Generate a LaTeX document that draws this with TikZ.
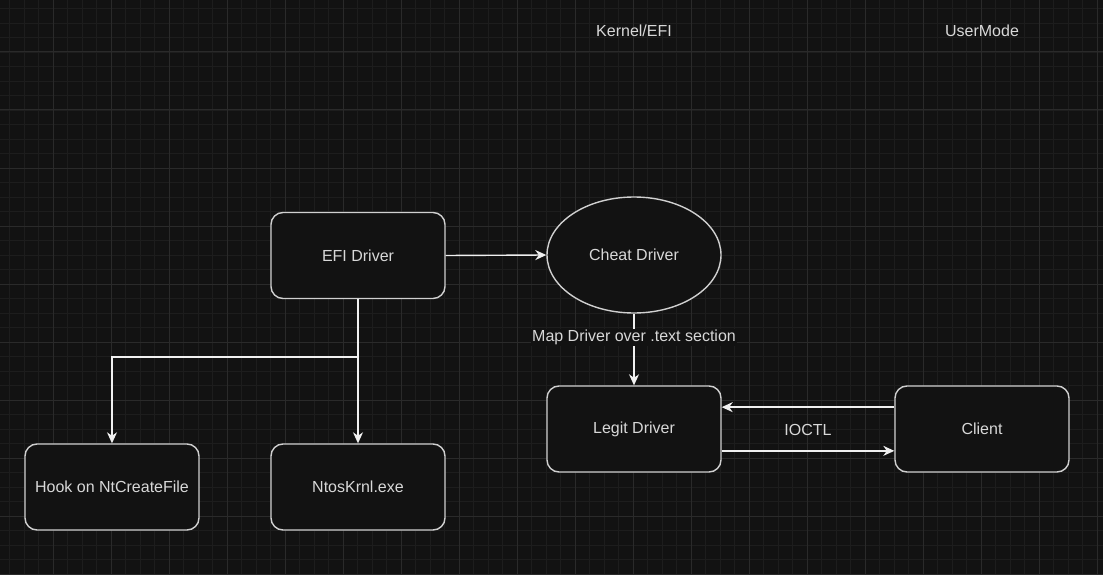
\documentclass[tikz,border=0pt]{standalone}
\usepackage{fontspec}
\setmainfont{Liberation Sans}
\usetikzlibrary{arrows.meta,calc,shapes.geometric}
\definecolor{bg}{HTML}{121212}
\definecolor{gminor}{HTML}{1D1D1D}
\definecolor{gmajor}{HTML}{2A2A2A}
\definecolor{stroke}{HTML}{D0D0D0}
\definecolor{wire}{HTML}{F0F0F0}
\definecolor{txt}{HTML}{D8D8D8}
\begin{document}
\begin{tikzpicture}[x=1pt,y=-1pt,
  box/.style={draw=stroke,line width=1.4pt,fill=bg,rounded corners=12pt,minimum width=174pt,minimum height=86pt,text=txt,font=\fontsize{16}{19}\selectfont},
  oval/.style={ellipse,draw=stroke,line width=1.4pt,fill=bg,minimum width=174pt,minimum height=116pt,text=txt,font=\fontsize{16}{19}\selectfont,inner sep=0pt},
  conn/.style={draw=wire,line width=1.4pt,-{Stealth[length=11pt,width=10pt,inset=3.5pt]}},
  lbl/.style={text=txt,font=\fontsize{16}{19}\selectfont,inner sep=1pt}]
\fill[bg] (0,0) rectangle (1103,575);
\useasboundingbox (0,0) rectangle (1103,575);
\foreach \i in {0,...,76}{
  \draw[gminor,line width=0.8pt] ({9.5+14.5*\i},0) -- ({9.5+14.5*\i},575);}
\foreach \i in {0,...,40}{
  \draw[gminor,line width=0.8pt] (0,{8.5+14.5*\i}) -- (1103,{8.5+14.5*\i});}
\foreach \i in {0,...,19}{
  \draw[gmajor,line width=1pt] ({53+58*\i},0) -- ({53+58*\i},575);}
\foreach \i in {0,...,9}{
  \draw[gmajor,line width=1pt] (0,{52+58*\i}) -- (1103,{52+58*\i});}

\node[lbl] (kernel) at (634,30.5) {Kernel/EFI};
\node[lbl] (user) at (982,30.5) {UserMode};

\node[box] (efi) at (358,255.5) {EFI Driver};
\node[oval] (cheat) at (634,255) {Cheat Driver};
\node[box] (legit) at (634,429) {Legit Driver};
\node[box] (client) at (982,429) {Client};
\node[box] (hook) at (112,487) {Hook on NtCreateFile};
\node[box] (ntos) at (358,487) {NtosKrnl.exe};

\draw[conn] (efi.east) -- (cheat.west);
\coordinate (br) at (358,357);
\draw[conn] (efi.south) -- (ntos.north);
\draw[conn] (br) -| (hook.north);
\draw[conn] (cheat.south) -- node[lbl,fill=bg,pos=0.33] (map) {Map Driver over .text section} (legit.north);
\draw[conn] ($(client.north west)!0.25!(client.south west)$) -- ($(legit.north east)!0.25!(legit.south east)$);
\draw[conn] ($(legit.north east)!0.75!(legit.south east)$) -- ($(client.north west)!0.75!(client.south west)$);
\node[lbl] (ioctl) at (808,429.5) {IOCTL};
\end{tikzpicture}
\end{document}
